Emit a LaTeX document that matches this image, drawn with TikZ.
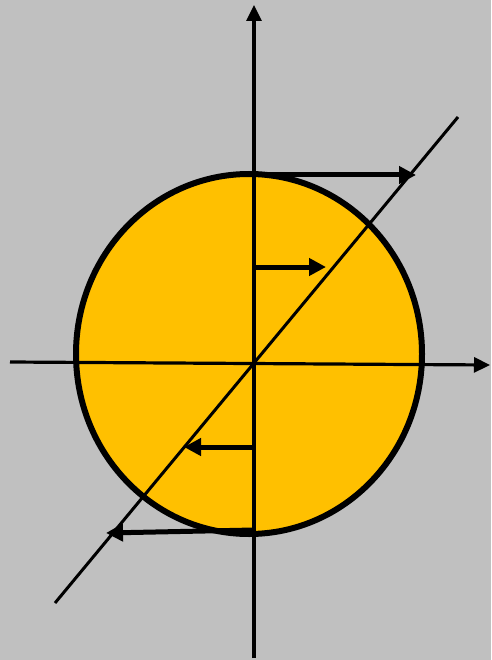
\documentclass[tikz,border=0pt]{standalone}
\usetikzlibrary{arrows.meta}
\definecolor{bg}{HTML}{C0C0C0}
\definecolor{disk}{HTML}{FFC000}
\tikzset{
  axis/.style={line width=3.2pt, -{Triangle[length=16pt,width=15pt]}},
  plain/.style={line width=3pt},
  vec/.style={line width=5pt, -{Triangle[length=17pt,width=17pt]}},
}
\begin{document}
\begin{tikzpicture}[x=1pt,y=-1pt]
\fill[bg] (0,0) rectangle (491,660);
\useasboundingbox (0,0) rectangle (491,660);
\draw[fill=disk, line width=6pt] (249,354) ellipse [x radius=173, y radius=180];
% axes
\coordinate (vb) at (254,658);
\coordinate (vt) at (254,5);
\coordinate (hl) at (10,362);
\coordinate (hr) at (490,365);
\coordinate (dl) at (55,603);
\coordinate (dr) at (458,117);
\draw[axis] (vb) -- (vt);
\draw[axis] (hl) -- (hr);
\draw[plain] (dl) -- (dr);
% vectors
\coordinate (a1) at (254,175); \coordinate (b1) at (416,175);
\coordinate (a2) at (254,267); \coordinate (b2) at (326,267);
\coordinate (a3) at (254,447); \coordinate (b3) at (184,447);
\coordinate (a4) at (254,530); \coordinate (b4) at (106,533);
\draw[vec] (a1) -- (b1);
\draw[vec] (a2) -- (b2);
\draw[vec] (a3) -- (b3);
\draw[vec] (a4) -- (b4);
\end{tikzpicture}
\end{document}
